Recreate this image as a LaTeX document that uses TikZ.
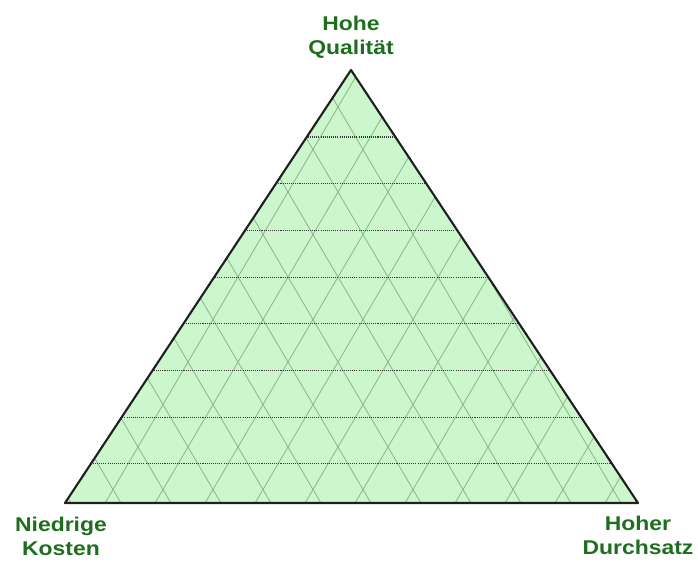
\documentclass[tikz,border=0pt]{standalone}
\usepackage{fontspec}
\setmainfont{Liberation Sans}
\newfontfamily\labelfont[FakeStretch=1.15]{Liberation Sans}
\usepackage{tikz}
\definecolor{ink}{HTML}{1F1F1F}
\definecolor{labelgreen}{HTML}{1E6E1E}
\definecolor{softgreen}{HTML}{CCF6CC}
\definecolor{gridgreen}{HTML}{8BB78B}
\definecolor{dotgray}{HTML}{383838}

\begin{document}
\begin{tikzpicture}[
  x=0.03cm,y=-0.03cm,
  corner/.style={font=\labelfont\bfseries\fontsize{17}{20.4}\selectfont,text=labelgreen,align=center,inner sep=0pt},
  lattice/.style={draw=gridgreen,line width=0.7pt},
  level/.style={draw=dotgray,line width=0.9pt,dash pattern=on 0.9pt off 0.9pt},
  outline/.style={draw=ink,line width=1.8pt,line join=round}
]
\useasboundingbox (0,0) rectangle (698,563);

\coordinate (apex) at (351,70);
\coordinate (lowleft) at (65,503);
\coordinate (lowright) at (638,503);

\fill[softgreen] (apex) -- (lowleft) -- (lowright) -- cycle;

% diagonal lattice and dotted levels, kept inside the triangle
\begin{scope}
  \clip (apex) -- (lowleft) -- (lowright) -- cycle;
  \foreach \i in {-9,...,12} {
    \draw[lattice] ({288+50*\i+447/1.7},0) -- ({288+50*\i-116/1.7},563);
    \draw[lattice] ({288+50*\i-447/1.7},0) -- ({288+50*\i+116/1.7},563);
  }
  \foreach \k in {0,...,7}
    \draw[level] (0,{137+46.7*\k}) -- (698,{137+46.7*\k});
\end{scope}

\draw[outline] (apex) -- (lowleft) -- (lowright) -- cycle;

\node[corner] (quality) at (351,37) {Hohe\\Qualität};
\node[corner] (cost) at (61,536) {Niedrige\\Kosten};
\node[corner] (throughput) at (638,535) {Hoher\\Durchsatz};
\end{tikzpicture}
\end{document}
